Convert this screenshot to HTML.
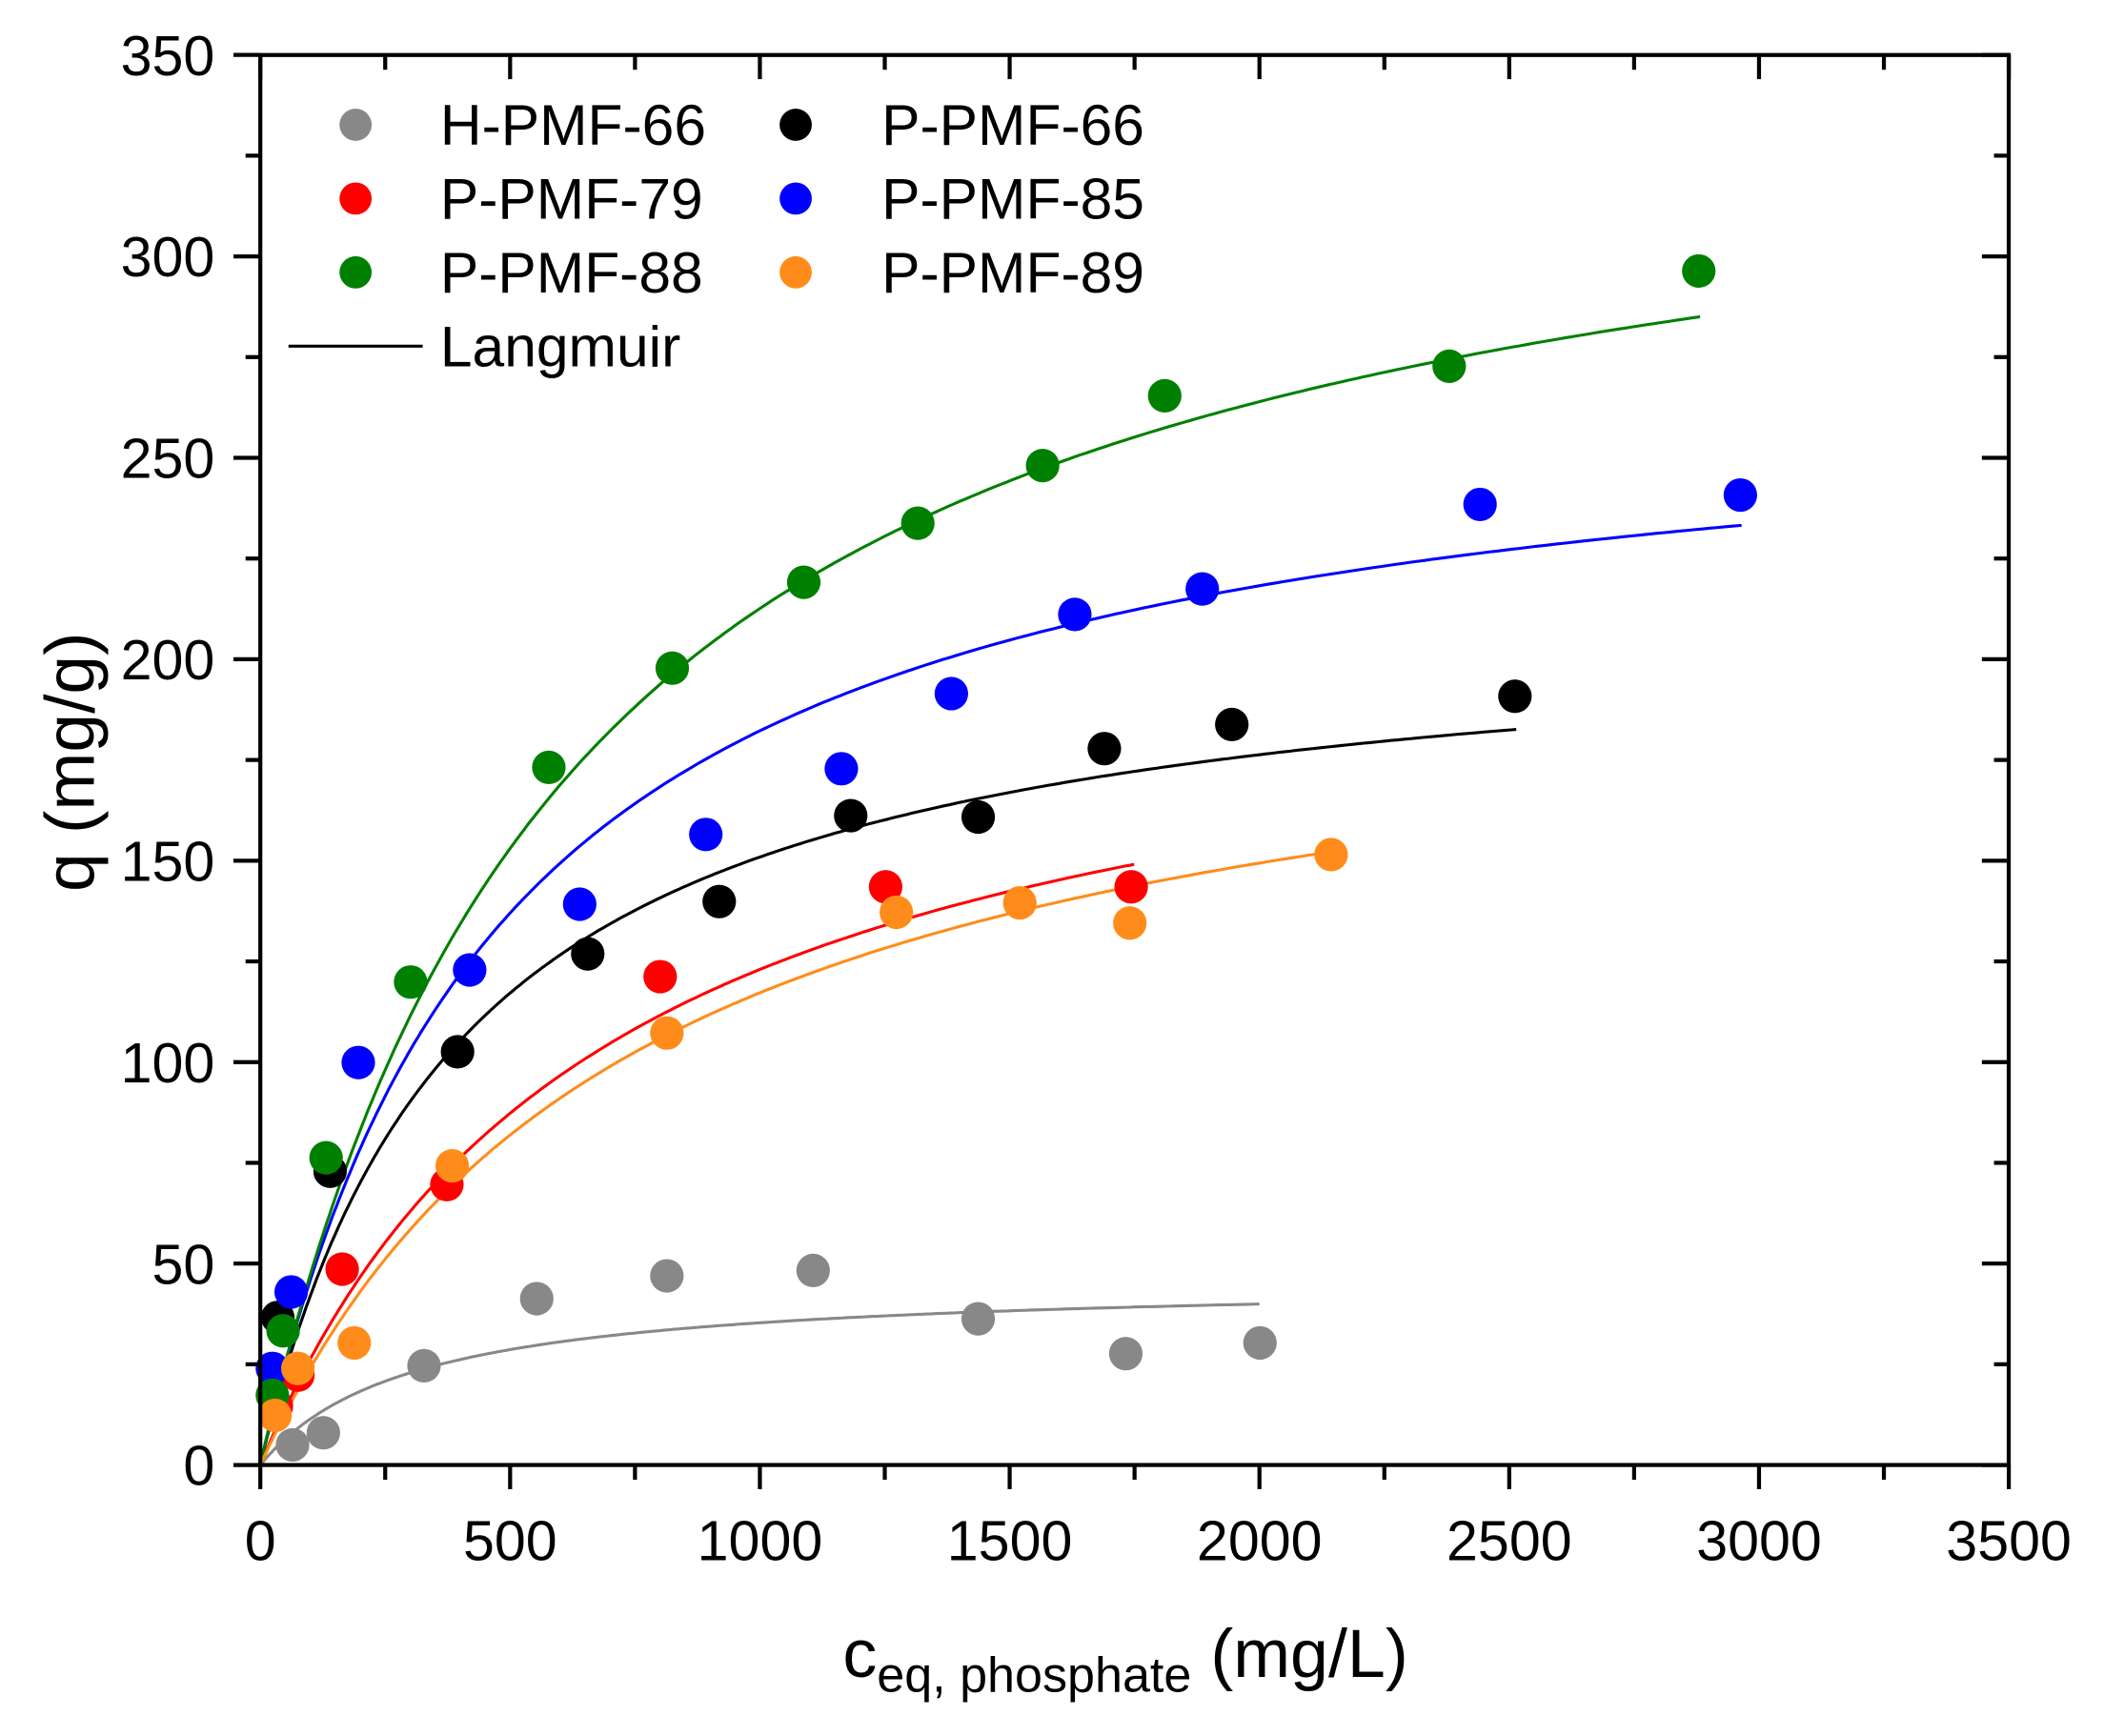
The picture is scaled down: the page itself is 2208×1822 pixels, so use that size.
<!DOCTYPE html>
<html><head><meta charset="utf-8"><style>
html,body{margin:0;padding:0;background:#fff;}
svg{display:block;}
text{font-family:"Liberation Sans",Arial,sans-serif;fill:#000;}
</style></head><body>
<svg id="s" width="2208" height="1822" viewBox="0 0 1568 1294" preserveAspectRatio="none" xmlns="http://www.w3.org/2000/svg">
<rect width="1568" height="1294" fill="#fff"/>
<g id="curves"></g>
<g id="pts"></g>
<g id="axes" stroke="#000" stroke-width="3" fill="none"></g>
<g id="labels" font-size="42"></g>
<text x="0" y="0" font-size="52" transform="translate(70,568) rotate(-90)" text-anchor="middle">q (mg/g)</text>
<text x="628" y="1250" font-size="51">c<tspan font-size="37" dy="11">eq, phosphate</tspan><tspan dy="-11"> (mg/L)</tspan></text>
<g font-size="43">
<circle cx="265" cy="93" r="12" fill="#888888"/><text x="328" y="108">H-PMF-66</text>
<circle cx="593" cy="93" r="12" fill="#000"/><text x="657" y="108">P-PMF-66</text>
<circle cx="265" cy="148" r="12" fill="#ff0000"/><text x="328" y="163">P-PMF-79</text>
<circle cx="593" cy="148" r="12" fill="#0000ff"/><text x="657" y="163">P-PMF-85</text>
<circle cx="265" cy="203" r="12" fill="#008000"/><text x="328" y="218">P-PMF-88</text>
<circle cx="593" cy="203" r="12" fill="#ff8c1a"/><text x="657" y="218">P-PMF-89</text>
<line x1="215" y1="258" x2="315" y2="258" stroke="#000" stroke-width="2.2"/><text x="328" y="273">Langmuir</text>
</g>
</svg>
<script>
var NS="http://www.w3.org/2000/svg";
function X(c){return 194+c*0.3723;}function Y(q){return 1092-q*3.003;}
function el(p,t,a){var e=document.createElementNS(NS,t);for(var k in a)e.setAttribute(k,a[k]);document.getElementById(p).appendChild(e);return e;}
var S=[
{c:"#888888",qm:46,K:0.0033,end:2000,p:[[218,1077],[241,1068],[316,1018],[400,968],[497,951],[606,947],[729,983],[839,1009],[939,1001]]},
{c:"#000000",qm:212,K:0.00247,end:2514,p:[[207,982],[246,873],[341,784],[438,711],[536,672],[634,608],[729,609],[823,558],[918,540],[1129,519]]},
{c:"#ff0000",qm:208,K:0.001447,end:1749,p:[[206,1048],[222,1025],[255,946],[333,883],[492,728],[660,661],[843,661]]},
{c:"#0000ff",qm:272,K:0.00203,end:2965,p:[[203,1020],[217,963],[267,792],[350,723],[432,674],[526,622],[627,573],[709,517],[801,458],[896,439],[1103,376],[1297,369]]},
{c:"#008000",qm:348,K:0.00157,end:2882,p:[[203,1040],[211,992],[243,863],[306,732],[409,572],[501,498],[599,434],[684,390],[777,347],[868,295],[1080,273],[1266,202]]},
{c:"#ff8c1a",qm:206,K:0.00132,end:2143,p:[[205,1055],[222,1020],[264,1001],[337,869],[497,770],[668,680],[760,673],[842,688],[992,637]]}];
S.forEach(function(s){var d="";for(var i=0;i<=300;i++){var c=s.end*Math.pow(i/300,1.6);var q=s.qm*s.K*c/(1+s.K*c);d+=(i?"L":"M")+X(c).toFixed(1)+","+Y(q).toFixed(1);}
el("curves","path",{d:d,stroke:s.c,"stroke-width":2.2,fill:"none"});});
S.forEach(function(s){s.p.forEach(function(p){el("pts","circle",{cx:p[0],cy:p[1],r:12.5,fill:s.c});});});
el("axes","rect",{x:194,y:41,width:1303,height:1051});
for(var v=0;v<=3500;v+=250){var x=X(v),maj=v%500==0;el("axes","line",{x1:x,y1:1092,x2:x,y2:1092+(maj?18:11)});el("axes","line",{x1:x,y1:41,x2:x,y2:41+(maj?18:11)});
if(maj){var t=el("labels","text",{x:x,y:1163,"text-anchor":"middle"});t.textContent=v;}}
for(var q=0;q<=350;q+=25){var y=Y(q),maj=q%50==0;el("axes","line",{x1:194,y1:y,x2:194-(maj?20:11),y2:y});el("axes","line",{x1:1497,y1:y,x2:1497-(maj?20:11),y2:y});
if(maj){var t=el("labels","text",{x:160,y:y+15,"text-anchor":"end"});t.textContent=q;}}
</script>
</body></html>
